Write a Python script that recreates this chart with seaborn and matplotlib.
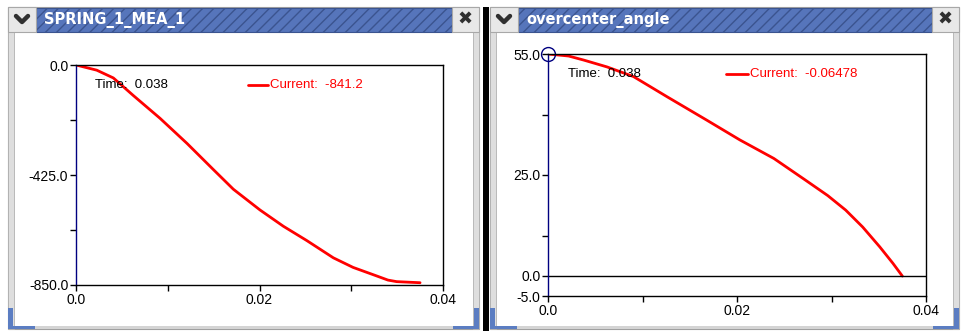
import numpy as np
import pandas as pd
import seaborn as sns
from matplotlib import pyplot as plt
from matplotlib.patches import Rectangle
from matplotlib.lines import Line2D

# --- data ---
spring_time = [0.0, 0.00226, 0.00407, 0.00625, 0.00916, 0.0121, 0.01497, 0.01715,
               0.02005, 0.0226, 0.02514, 0.02805, 0.0302, 0.03277, 0.0340, 0.03495, 0.0375]
spring_value = [0.0, -20, -50, -118, -206, -303, -404, -480,
                -560, -623, -678, -745, -782, -815, -831, -837, -841.2]

angle_time = [0.0, 0.00218, 0.00377, 0.00624, 0.00905, 0.0126, 0.0168, 0.0203, 0.0239,
              0.0272, 0.0296, 0.0315, 0.0333, 0.0351, 0.0365, 0.0375]
angle_value = [55.0, 54.5, 53.5, 51.8, 49.4, 44.4, 38.6, 33.7, 29.1,
               23.8, 19.9, 16.3, 12.1, 7.2, 3.1, -0.06478]

x_ticks = [0.0, 0.01, 0.02, 0.03, 0.04]
x_labels = ['0.0', '', '0.02', '', '0.04']
spring_yticks = [0.0, -212.5, -425.0, -637.5, -850.0]
spring_ylabels = ['0.0', '', '-425.0', '', '-850.0']
angle_yticks = [55.0, 40.0, 25.0, 10.0, 0.0, -5.0]
angle_ylabels = ['55.0', '', '25.0', '', '0.0', '-5.0']

titles = ['SPRING_1_MEA_1', 'overcenter_angle']
time_text = 'Time:  0.038'
current_text = ['Current:  -841.2', 'Current:  -0.06478']

W, H = 961, 331
sns.set_style('white')
plt.rcParams['font.family'] = ['Liberation Sans', 'DejaVu Sans']
plt.rcParams['hatch.color'] = '#6886c6'
plt.rcParams['hatch.linewidth'] = 1.0

fig = plt.figure(figsize=(W / 100, H / 100), dpi=100)
fig.patch.set_facecolor('white')


def fx(px):
    return px / W


def fy(py):
    return 1 - py / H


def box(x0, y0, x1, y1, **kw):
    r = Rectangle((fx(x0), fy(y1)), fx(x1) - fx(x0), fy(y0) - fy(y1),
                  transform=fig.transFigure, zorder=-5, **kw)
    fig.add_artist(r)
    return r


def window(x0, x1, title):
    top, bot = 7, 329
    box(x0, top, x1, bot, facecolor='white', edgecolor='#a0a0a0', lw=0.8)
    # side borders
    box(x0, 32, x0 + 6, bot, facecolor='#dedede', edgecolor='#b0b0b0', lw=0.6)
    box(x1 - 6, 32, x1, bot, facecolor='#dedede', edgecolor='#b0b0b0', lw=0.6)
    box(x0, bot - 3, x1, bot, facecolor='#d4d4d4', edgecolor='none')
    # blue resize handles
    blue = '#5b7dc2'
    box(x0, 308, x0 + 5, bot, facecolor=blue, edgecolor='none')
    box(x0, bot - 3, x0 + 27, bot, facecolor=blue, edgecolor='none')
    box(x1 - 5, 308, x1, bot, facecolor=blue, edgecolor='none')
    box(x1 - 26, bot - 3, x1, bot, facecolor=blue, edgecolor='none')
    # title bar
    box(x0 + 28, 8, x1 - 27, 32, facecolor='#5675bb', edgecolor='#3b548f',
        lw=0.8, hatch='///')
    # buttons
    box(x0, top, x0 + 28, 32, facecolor='#e8e8e8', edgecolor='#a8a8a8', lw=0.8)
    box(x1 - 27, top, x1, 32, facecolor='#e8e8e8', edgecolor='#a8a8a8', lw=0.8)
    cx = x0 + 14
    fig.add_artist(Line2D([fx(cx - 6), fx(cx), fx(cx + 6)], [fy(16), fy(22), fy(16)],
                          color='#303030', lw=3.2, transform=fig.transFigure))
    fig.text(fx(x1 - 13.5), fy(20), '\u2716', color='#303030', fontsize=13,
             ha='center', va='center', family='DejaVu Sans')
    fig.text(fx(x0 + 36), fy(20.5), title, color='white', fontsize=10.5,
             fontweight='bold', ha='left', va='center', family='DejaVu Sans')


window(8, 479, titles[0])
box(483, 7, 489, 331, facecolor='black', edgecolor='none')
window(490, 959, titles[1])


def make_axes(x0, y0, x1, y1):
    ax = fig.add_axes([fx(x0), fy(y1), fx(x1) - fx(x0), fy(y0) - fy(y1)])
    ax.set_zorder(5)
    ax.set_facecolor('white')
    for s in ax.spines.values():
        s.set_color('black')
        s.set_linewidth(1.0)
    ax.spines['left'].set_color('#000080')
    ax.tick_params(axis='both', direction='out', length=4, width=1,
                   labelsize=10, pad=1.5, colors='black',
                   bottom=True, left=True)
    return ax


# left panel
ax1 = make_axes(76, 65, 443, 285)
df1 = pd.DataFrame({'time': spring_time, 'value': spring_value})
sns.lineplot(data=df1, x='time', y='value', ax=ax1, color='#ff0000', lw=2)
ax1.set_xlim(0, 0.04)
ax1.set_ylim(-850, 0)
ax1.set_xticks(x_ticks)
ax1.set_xticklabels(x_labels)
ax1.set_yticks(spring_yticks)
ax1.set_yticklabels(spring_ylabels)
ax1.set_xlabel('')
ax1.set_ylabel('')

# right panel
ax2 = make_axes(548, 54, 926, 296)
df2 = pd.DataFrame({'time': angle_time, 'value': angle_value})
sns.lineplot(data=df2, x='time', y='value', ax=ax2, color='#ff0000', lw=2)
ax2.axhline(0, color='black', lw=1)
ax2.set_xlim(0, 0.04)
ax2.set_ylim(-5, 55)
ax2.set_xticks(x_ticks)
ax2.set_xticklabels(x_labels)
ax2.set_yticks(angle_yticks)
ax2.set_yticklabels(angle_ylabels)
ax2.set_xlabel('')
ax2.set_ylabel('')
ax2.plot([angle_time[0]], [angle_value[0]], 'o', ms=10, mfc='none',
         mec='#000080', mew=1, clip_on=False)

# readouts
fig.text(fx(95), fy(85), time_text, fontsize=9.5, color='black', va='center', zorder=10)
fig.add_artist(Line2D([fx(248), fx(268)], [fy(85), fy(85)], color='#ff0000', lw=2,
                      transform=fig.transFigure, zorder=10))
fig.text(fx(270), fy(85), current_text[0], fontsize=9.5, color='#ff0000', va='center', zorder=10)

fig.text(fx(568), fy(74), time_text, fontsize=9.5, color='black', va='center', zorder=10)
fig.add_artist(Line2D([fx(726), fx(748)], [fy(74), fy(74)], color='#ff0000', lw=2,
                      transform=fig.transFigure, zorder=10))
fig.text(fx(750), fy(74), current_text[1], fontsize=9.5, color='#ff0000', va='center', zorder=10)

fig.savefig('out.png', dpi=100)
